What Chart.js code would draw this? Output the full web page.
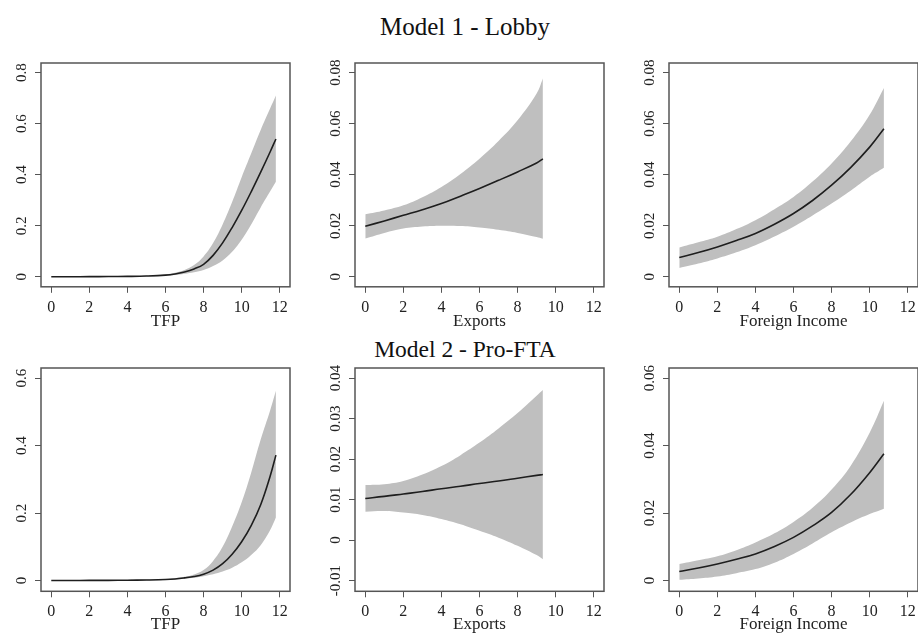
<!DOCTYPE html>
<html>
<head>
<meta charset="utf-8">
<script src="https://cdn.jsdelivr.net/npm/chart.js@4/dist/chart.umd.min.js"></script>
<style>
html, body { margin: 0; padding: 0; background: #fff; }
body { width: 918px; height: 635px; overflow: hidden; position: relative; font-family: "Liberation Serif", serif; }
.title { position: absolute; left: 0; width: 930px; text-align: center; color: #111; white-space: nowrap; }
canvas { position: absolute; }
</style>
</head>
<body>
<div class="title" style="top:11.6px;font-size:25px;line-height:30px;">Model 1 - Lobby</div>
<div class="title" style="top:333.8px;font-size:23.5px;line-height:30px;">Model 2 - Pro-FTA</div>
<canvas id="p1"></canvas>
<canvas id="p2"></canvas>
<canvas id="p3"></canvas>
<canvas id="p4"></canvas>
<canvas id="p5"></canvas>
<canvas id="p6"></canvas>
<script>
// tick labels
var xTicks = [0, 2, 4, 6, 8, 10, 12];
var yTicksTfp1 = [0, 0.2, 0.4, 0.6, 0.8];
var yTicksSmall1 = [0, 0.02, 0.04, 0.06, 0.08];
var yTicksTfp2 = [0, 0.2, 0.4, 0.6];
var yTicksExp2 = [-0.01, 0, 0.01, 0.02, 0.03, 0.04];
var yTicksFi2 = [0, 0.02, 0.04, 0.06];

// x values of the predicted curves
var tfpX = [0, 1, 2, 3, 4, 5, 6, 6.5, 7, 7.5, 8, 8.5, 9, 9.5, 10, 10.5, 11, 11.5, 11.8];
var expX = [0, 1, 2, 3, 4, 5, 6, 7, 8, 9, 9.33];
var fiX = [0, 1, 2, 3, 4, 5, 6, 7, 8, 9, 10, 10.75];

// Model 1 - Lobby
var lobbyTfpFit = [0.0003, 0.0004, 0.0006, 0.001, 0.0016, 0.003, 0.0065, 0.011, 0.019, 0.031, 0.049, 0.084, 0.133, 0.193, 0.26, 0.333, 0.41, 0.49, 0.54];
var lobbyTfpUpper = [0.0008, 0.001, 0.0013, 0.0018, 0.0026, 0.0045, 0.0095, 0.016, 0.027, 0.046, 0.08, 0.132, 0.205, 0.293, 0.39, 0.483, 0.575, 0.66, 0.71];
var lobbyTfpLower = [0.0001, 0.0002, 0.0003, 0.0005, 0.0009, 0.0019, 0.0042, 0.007, 0.012, 0.018, 0.027, 0.042, 0.064, 0.098, 0.145, 0.205, 0.272, 0.335, 0.372];

var lobbyExpFit = [0.0198, 0.0219, 0.0241, 0.0263, 0.0287, 0.0316, 0.0346, 0.0378, 0.0411, 0.0446, 0.0462];
var lobbyExpUpper = [0.0245, 0.026, 0.028, 0.0312, 0.0352, 0.0403, 0.0463, 0.0532, 0.0613, 0.0718, 0.0777];
var lobbyExpLower = [0.015, 0.0172, 0.0189, 0.0197, 0.02, 0.0199, 0.0193, 0.0184, 0.0172, 0.0156, 0.0149];

var lobbyFiFit = [0.0076, 0.0095, 0.0117, 0.0142, 0.017, 0.0206, 0.0248, 0.0299, 0.0359, 0.0428, 0.0508, 0.058];
var lobbyFiUpper = [0.0115, 0.0135, 0.0157, 0.0187, 0.0222, 0.0265, 0.0313, 0.0373, 0.0444, 0.053, 0.0635, 0.074];
var lobbyFiLower = [0.0035, 0.0052, 0.0072, 0.0096, 0.0124, 0.0158, 0.0196, 0.024, 0.0287, 0.0337, 0.0392, 0.0427];

// Model 2 - Pro-FTA
var ftaTfpFit = [0.0002, 0.0003, 0.0004, 0.0006, 0.0009, 0.0016, 0.003, 0.0048, 0.008, 0.012, 0.019, 0.031, 0.05, 0.078, 0.115, 0.163, 0.225, 0.31, 0.372];
var ftaTfpUpper = [0.0006, 0.0007, 0.0009, 0.0012, 0.0017, 0.0028, 0.0045, 0.007, 0.011, 0.018, 0.031, 0.058, 0.1, 0.16, 0.232, 0.32, 0.418, 0.505, 0.563];
var ftaTfpLower = [0.0001, 0.0001, 0.0002, 0.0003, 0.0005, 0.0009, 0.0019, 0.0034, 0.0055, 0.0085, 0.013, 0.019, 0.027, 0.038, 0.054, 0.076, 0.105, 0.15, 0.187];

var ftaExpFit = [0.0103, 0.0108, 0.0114, 0.012, 0.0127, 0.0133, 0.014, 0.0146, 0.0153, 0.016, 0.0162];
var ftaExpUpper = [0.0136, 0.0138, 0.0146, 0.0162, 0.0183, 0.021, 0.0241, 0.0276, 0.0314, 0.0357, 0.0371];
var ftaExpLower = [0.007, 0.0072, 0.0068, 0.0062, 0.0052, 0.0039, 0.0023, 0.0006, -0.0014, -0.0037, -0.0047];

var ftaFiFit = [0.0027, 0.0037, 0.0049, 0.0063, 0.0079, 0.0101, 0.0128, 0.0162, 0.0202, 0.0255, 0.032, 0.0376];
var ftaFiUpper = [0.0049, 0.006, 0.0072, 0.009, 0.0113, 0.014, 0.0174, 0.0216, 0.027, 0.034, 0.0438, 0.0533];
var ftaFiLower = [0.0002, 0.0006, 0.0012, 0.0022, 0.0034, 0.0053, 0.0079, 0.011, 0.0143, 0.0172, 0.0197, 0.0213];

Chart.defaults.font.family = '"Liberation Serif", serif';
Chart.defaults.color = "#222";

var AXIS_W = 40, PAD_T = 8, PAD_R = 8, PLOT_W = 249, PLOT_H = 224;

// R style box round the plot and rotated y tick labels
var rFrame = {
    id: "rFrame",
    afterDraw: function (chart) {
        var ctx = chart.ctx, a = chart.chartArea, y = chart.scales.y;
        ctx.save();
        ctx.strokeStyle = "#555";
        ctx.lineWidth = 1.5;
        ctx.strokeRect(a.left, a.top, a.right - a.left, a.bottom - a.top);
        ctx.fillStyle = "#222";
        ctx.font = '15px "Liberation Serif"';
        ctx.textAlign = "center";
        ctx.textBaseline = "alphabetic";
        y.ticks.forEach(function (t) {
            ctx.save();
            ctx.translate(a.left - 15.5, y.getPixelForValue(t.value));
            ctx.rotate(-Math.PI / 2);
            ctx.fillText(String(t.value), 0, 0);
            ctx.restore();
        });
        ctx.restore();
    }
};

function points(xs, ys) {
    return xs.map(function (x, i) { return { x: x, y: ys[i] }; });
}

function panel(id, left, top, axisH, xs, fit, upper, lower, yTicks, yMin, yMax, xTitle) {
    var canvas = document.getElementById(id);
    canvas.width = AXIS_W + PLOT_W + PAD_R;
    canvas.height = PAD_T + PLOT_H + axisH;
    canvas.style.left = (left - AXIS_W) + "px";
    canvas.style.top = (top - PAD_T) + "px";

    new Chart(canvas, {
        type: "line",
        data: {
            datasets: [{
                data: points(xs, fit),
                borderColor: "#1e1e1e",
                borderWidth: 1.6,
                pointRadius: 0,
                tension: 0.4,
                fill: false
            }, {
                data: points(xs, upper),
                borderWidth: 0,
                borderColor: "rgba(0,0,0,0)",
                backgroundColor: "#bfbfbf",
                pointRadius: 0,
                tension: 0.4,
                fill: "+1"
            }, {
                data: points(xs, lower),
                borderWidth: 0,
                borderColor: "rgba(0,0,0,0)",
                pointRadius: 0,
                tension: 0.4,
                fill: false
            }]
        },
        options: {
            responsive: false,
            animation: false,
            devicePixelRatio: 1,
            layout: { padding: { left: 0, top: PAD_T, right: PAD_R, bottom: 0 } },
            plugins: { legend: { display: false }, tooltip: { enabled: false } },
            scales: {
                x: {
                    type: "linear",
                    min: -0.54,
                    max: 12.54,
                    afterBuildTicks: function (s) {
                        s.ticks = xTicks.map(function (v) { return { value: v }; });
                    },
                    afterFit: function (s) { s.height = axisH; },
                    border: { display: false },
                    grid: { drawOnChartArea: false, drawTicks: true, tickLength: 6, color: "#555", lineWidth: 1 },
                    ticks: {
                        autoSkip: false, maxRotation: 0, padding: 5,
                        font: { size: 16 }, color: "#222",
                        callback: function (v) { return String(v); }
                    },
                    title: {
                        display: true, text: xTitle, color: "#222",
                        font: { size: 17 }, padding: { top: 0, bottom: 0 }
                    }
                },
                y: {
                    type: "linear",
                    min: yMin,
                    max: yMax,
                    afterBuildTicks: function (s) {
                        s.ticks = yTicks.map(function (v) { return { value: v }; });
                    },
                    afterFit: function (s) { s.width = AXIS_W; },
                    border: { display: false },
                    grid: { drawOnChartArea: false, drawTicks: true, tickLength: 6, color: "#555", lineWidth: 1 },
                    ticks: { display: false }
                }
            }
        },
        plugins: [rFrame]
    });
}

panel("p1", 41, 63, 45.2, tfpX, lobbyTfpFit, lobbyTfpUpper, lobbyTfpLower, yTicksTfp1, -0.0391, 0.8376, "TFP");
panel("p2", 355, 63, 45.2, expX, lobbyExpFit, lobbyExpUpper, lobbyExpLower, yTicksSmall1, -0.00391, 0.08376, "Exports");
panel("p3", 669, 63, 45.2, fiX, lobbyFiFit, lobbyFiUpper, lobbyFiLower, yTicksSmall1, -0.00391, 0.08376, "Foreign Income");
panel("p4", 41, 368, 43.7, tfpX, ftaTfpFit, ftaTfpUpper, ftaTfpLower, yTicksTfp2, -0.0319, 0.6304, "TFP");
panel("p5", 355, 368, 43.7, expX, ftaExpFit, ftaExpUpper, ftaExpLower, yTicksExp2, -0.01265, 0.04253, "Exports");
panel("p6", 669, 368, 43.7, fiX, ftaFiFit, ftaFiUpper, ftaFiLower, yTicksFi2, -0.00319, 0.06304, "Foreign Income");
</script>
</body>
</html>
